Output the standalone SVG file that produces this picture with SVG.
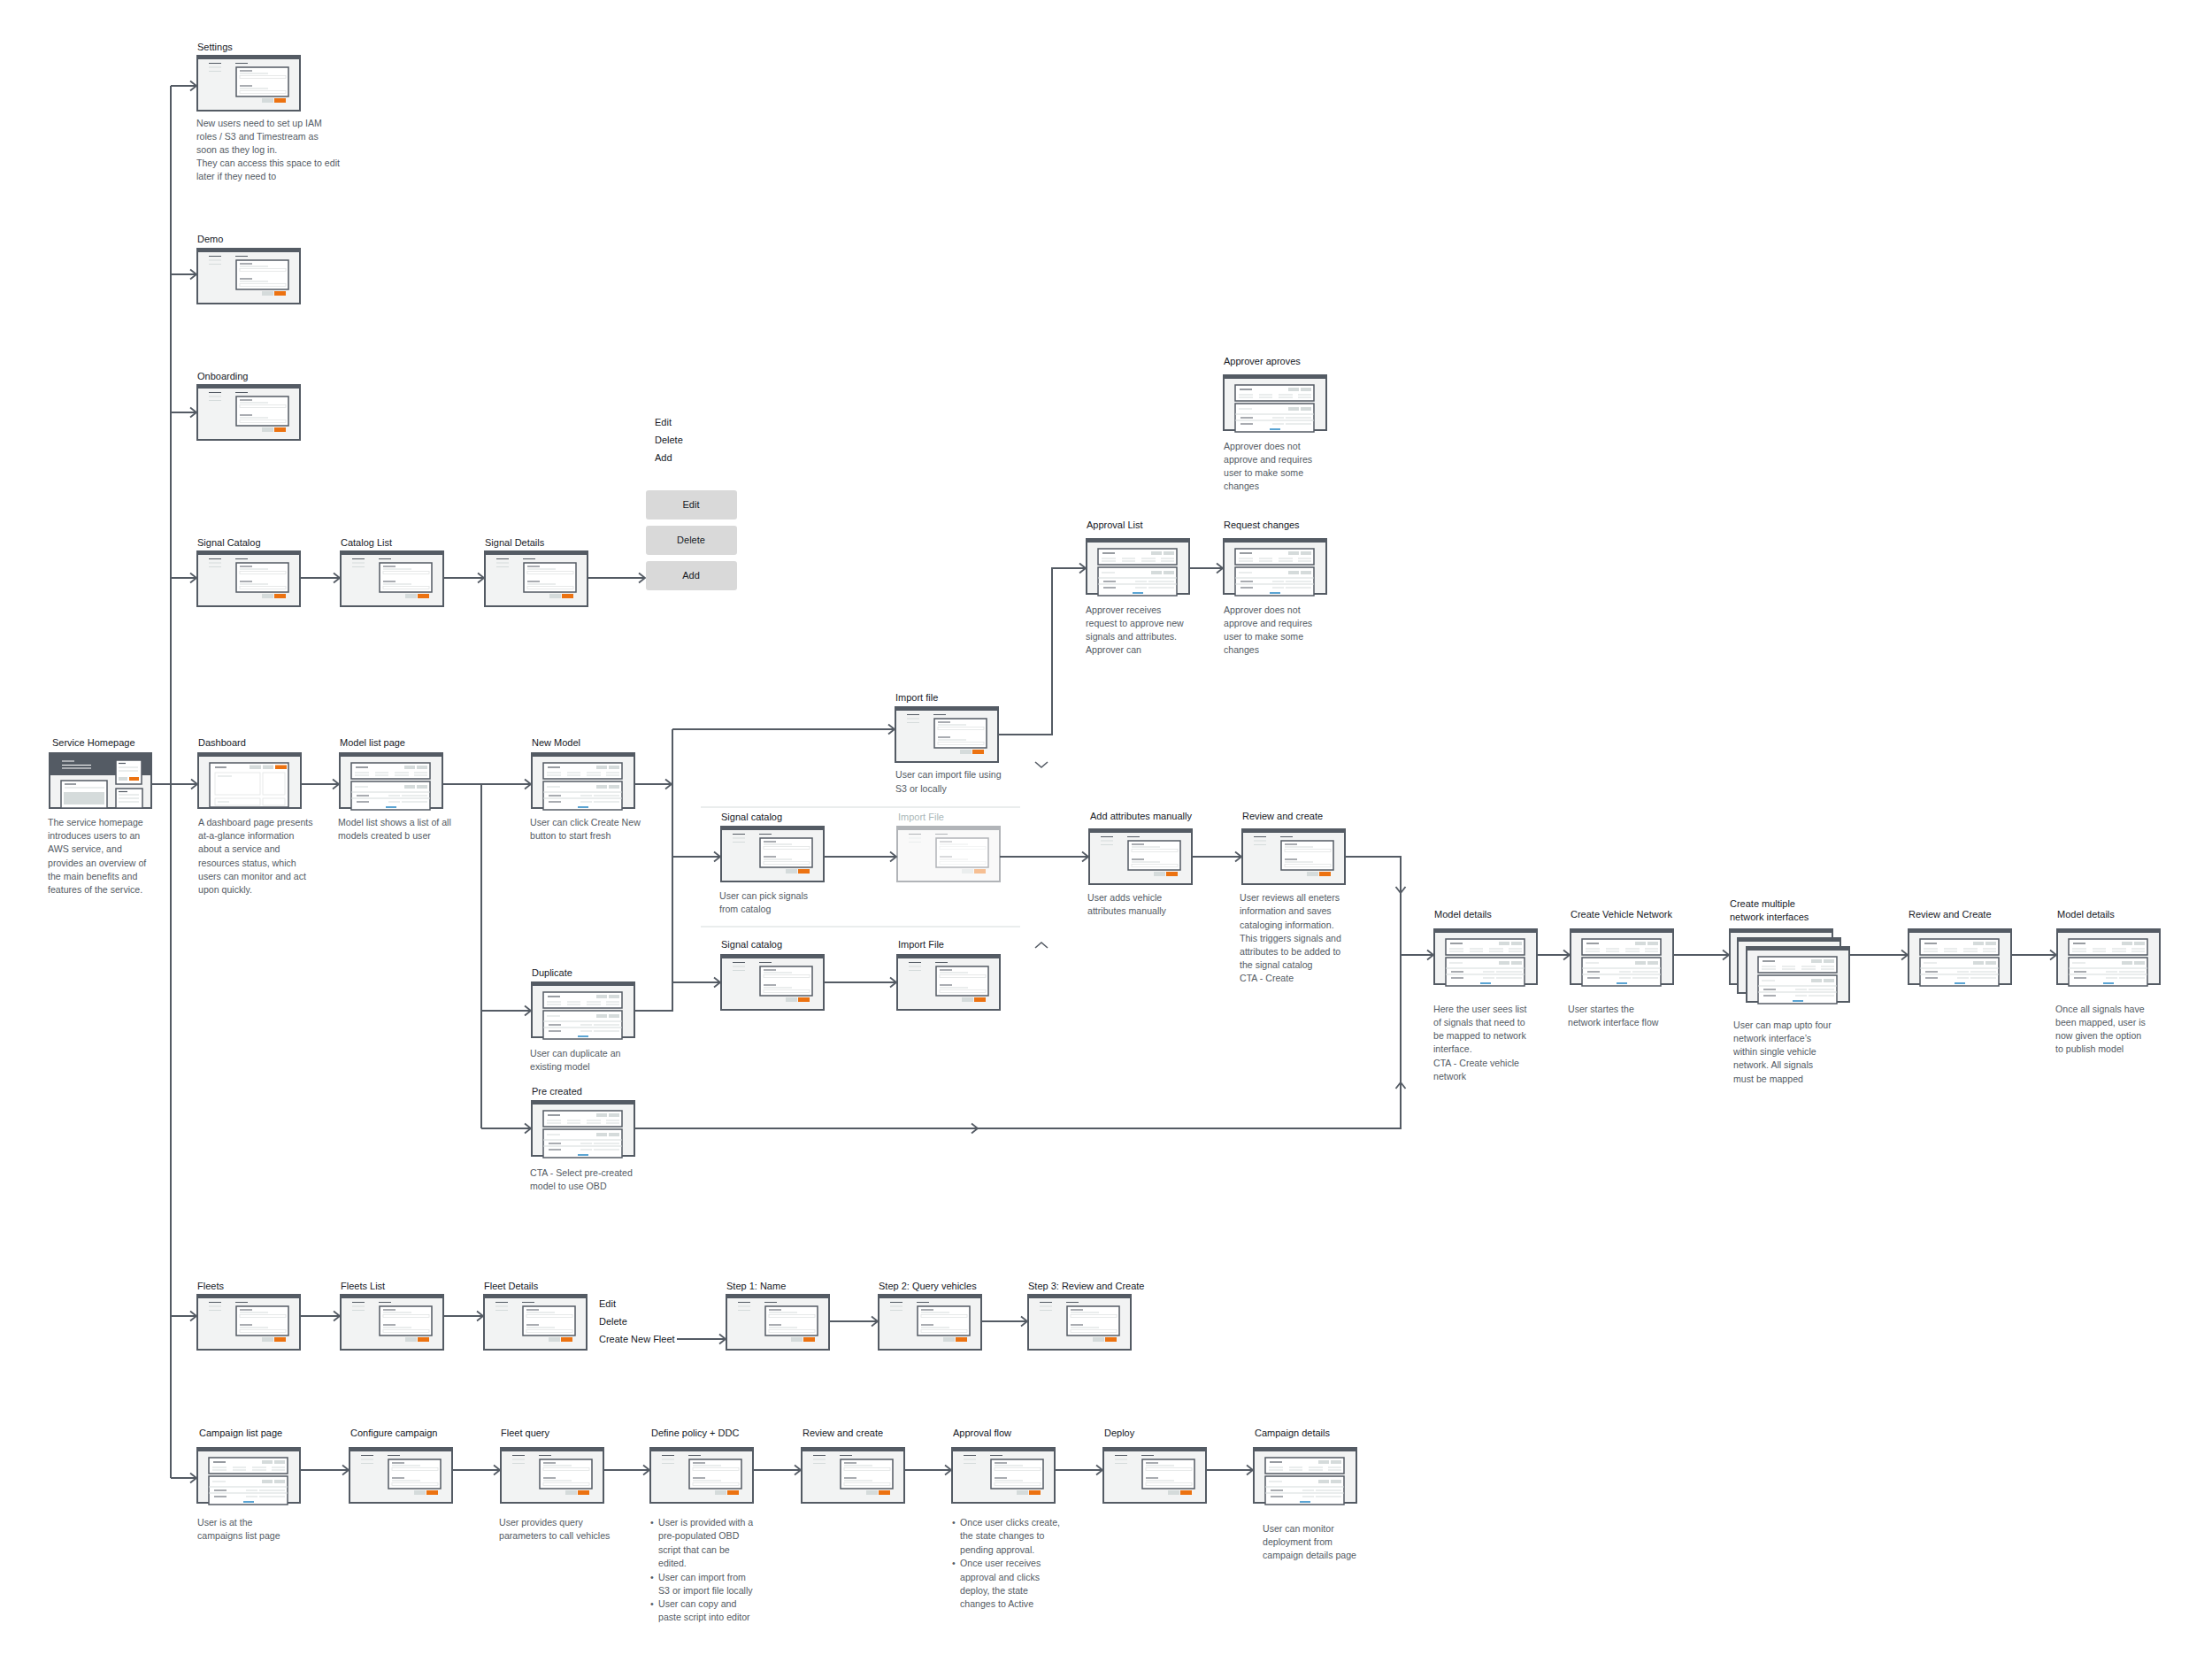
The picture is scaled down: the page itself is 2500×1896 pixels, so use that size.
<svg xmlns="http://www.w3.org/2000/svg" width="2500" height="1896" viewBox="0 0 2500 1896">
<style>
.lbl{font-family:"Liberation Sans",Arial,sans-serif;font-size:11px;fill:#16191f}
.lblf{font-family:"Liberation Sans",Arial,sans-serif;font-size:11px;fill:#aab7b8}
.desc{font-family:"Liberation Sans",Arial,sans-serif;font-size:10.6px;fill:#545b64}
.btnt{font-family:"Liberation Sans",Arial,sans-serif;font-size:11px;fill:#16191f;text-anchor:middle}
.conn path{fill:none;stroke:#545b64;stroke-width:2}
.fr{fill:#f2f3f3;stroke:#545b64;stroke-width:2}
.bar{fill:#545b64}
.pn{fill:#fff;stroke:#545b64;stroke-width:1.5}
.dk{fill:none;stroke:#545b64;stroke-width:1.2}
.lt{fill:none;stroke:#d5dbdb;stroke-width:1}
.fld{fill:none;stroke:#e1e4e4;stroke-width:0.8}
.gb{fill:#d5dbdb}
.ob{fill:#ec7211}
.bl{fill:none;stroke:#0073bb;stroke-width:1.3}
.btn{fill:#d9d9d9}
.sep{fill:none;stroke:#eaeded;stroke-width:2}
.chev{fill:none;stroke:#545b64;stroke-width:1.6}
</style>
<defs>
<marker id="arr" viewBox="0 0 10 14" markerWidth="10" markerHeight="14" refX="8.5" refY="7" orient="auto" markerUnits="userSpaceOnUse">
<path d="M1.5,1.5 L8.5,7 L1.5,12.5" fill="none" stroke="#545b64" stroke-width="1.8"/>
</marker>
<g id="tForm">
<rect class="fr" x="0" y="0" width="116" height="62"/>
<rect class="bar" x="0" y="0" width="116" height="4"/>
<path class="dk" d="M13,8.5h14M43,8.5h14"/>
<path class="lt" d="M13,13h14M13,17.5h14"/>
<rect class="pn" x="44" y="13" width="59" height="33"/>
<path class="dk" d="M48,17h14M48,34h14"/>
<path class="lt" d="M48,20h32M48,37h32"/>
<rect class="fld" x="48" y="22.5" width="52" height="3"/>
<rect class="fld" x="48" y="39.5" width="52" height="3"/>
<rect class="gb" x="73" y="48" width="13" height="5"/>
<rect class="ob" x="87" y="48" width="13" height="5"/>
</g>
<g id="tList">
<rect class="fr" x="0" y="0" width="116" height="62"/>
<rect class="bar" x="0" y="0" width="116" height="4"/>
<rect class="pn" x="13" y="11" width="89" height="18"/>
<path class="dk" d="M18,16h14"/>
<rect class="gb" x="73" y="14" width="12" height="4"/>
<rect class="gb" x="87" y="14" width="12" height="4"/>
<path class="lt" d="M17,22h16M40,22h15M62,22h16M84,22h15M17,25h16M40,25h15M62,25h16M84,25h15"/>
<rect class="pn" x="13" y="32" width="89" height="32"/>
<path class="lt" d="M17,38h15"/>
<rect class="gb" x="73" y="36" width="12" height="4"/>
<rect class="gb" x="87" y="36" width="12" height="4"/>
<path class="lt" d="M13,44h89M13,51h89"/>
<path class="dk" d="M19,48h14M19,55h14"/>
<path class="lt" d="M55,48h13M70,48h29M55,55h13M70,55h29"/>
<path class="bl" d="M52,61h12"/>
</g>
<g id="tFrame">
<rect class="fr" x="0" y="0" width="116" height="62"/>
<rect class="bar" x="0" y="0" width="116" height="4"/>
</g>
</defs>
<rect width="2500" height="1896" fill="#ffffff"/>

<g id="connectors" class="conn">
<path d="M193,97 V1670"/>
<path d="M193,97 H222" marker-end="url(#arr)"/>
<path d="M193,310 H222" marker-end="url(#arr)"/>
<path d="M193,466 H222" marker-end="url(#arr)"/>
<path d="M193,653 H222" marker-end="url(#arr)"/>
<path d="M171,886 H223" marker-end="url(#arr)"/>
<path d="M193,1487 H222" marker-end="url(#arr)"/>
<path d="M193,1670 H222" marker-end="url(#arr)"/>
<path d="M340,653 H384" marker-end="url(#arr)"/>
<path d="M501,653 H547" marker-end="url(#arr)"/>
<path d="M664,653 H729" marker-end="url(#arr)"/>
<path d="M340,886 H383" marker-end="url(#arr)"/>
<path d="M500,886 H544 V1275"/>
<path d="M544,886 H600" marker-end="url(#arr)"/>
<path d="M544,1142 H600" marker-end="url(#arr)"/>
<path d="M544,1275 H600" marker-end="url(#arr)"/>
<path d="M717,886 H759" marker-end="url(#arr)"/>
<path d="M760,824 V1142 H717"/>
<path d="M760,824 H1011" marker-end="url(#arr)"/>
<path d="M760,968 H814" marker-end="url(#arr)"/>
<path d="M760,1110 H814" marker-end="url(#arr)"/>
<path d="M931,968 H1013" marker-end="url(#arr)"/>
<path d="M1130,968 H1230" marker-end="url(#arr)"/>
<path d="M1347,968 H1403" marker-end="url(#arr)"/>
<path d="M1520,968 H1583 V1009" marker-end="url(#arr)"/>
<path d="M1583,1009 V1079 H1620" marker-end="url(#arr)"/>
<path d="M717,1275 H1105" marker-end="url(#arr)"/>
<path d="M1105,1275 H1583 V1223" marker-end="url(#arr)"/>
<path d="M1583,1223 V1079"/>
<path d="M931,1110 H1013" marker-end="url(#arr)"/>
<path d="M1128,830 H1189 V642 H1227" marker-end="url(#arr)"/>
<path d="M1344,642 H1382" marker-end="url(#arr)"/>
<path d="M1737,1079 H1774" marker-end="url(#arr)"/>
<path d="M1891,1079 H1954" marker-end="url(#arr)"/>
<path d="M2090,1079 H2156" marker-end="url(#arr)"/>
<path d="M2273,1079 H2324" marker-end="url(#arr)"/>
<path d="M339,1487 H384" marker-end="url(#arr)"/>
<path d="M501,1487 H546" marker-end="url(#arr)"/>
<path d="M765,1513 H820" marker-end="url(#arr)"/>
<path d="M937,1493 H992" marker-end="url(#arr)"/>
<path d="M1109,1493 H1161" marker-end="url(#arr)"/>
<path d="M339,1661 H394" marker-end="url(#arr)"/>
<path d="M511,1661 H565" marker-end="url(#arr)"/>
<path d="M682,1661 H734" marker-end="url(#arr)"/>
<path d="M851,1661 H905" marker-end="url(#arr)"/>
<path d="M1022,1661 H1075" marker-end="url(#arr)"/>
<path d="M1192,1661 H1246" marker-end="url(#arr)"/>
<path d="M1363,1661 H1416" marker-end="url(#arr)"/>
</g>

<g id="dividers">
<path class="sep" d="M792,912 H1153"/>
<path class="sep" d="M792,1047 H1153"/>
<polyline class="chev" points="1170,861 1177,867 1184,861"/>
<polyline class="chev" points="1170,1071 1177,1065 1184,1071"/>
</g>

<g id="settings">
<text class="lbl" x="223" y="57">Settings</text>
<use href="#tForm" x="223" y="63"/>
<text class="desc"><tspan x="222" y="143">New users need to set up IAM</tspan><tspan x="222" y="158">roles / S3 and Timestream as</tspan><tspan x="222" y="173">soon as they log in.</tspan><tspan x="222" y="188">They can access this space to edit</tspan><tspan x="222" y="203">later if they need to</tspan></text>
</g>
<g id="demo">
<text class="lbl" x="223" y="274">Demo</text>
<use href="#tForm" x="223" y="281"/>
</g>
<g id="onboarding">
<text class="lbl" x="223" y="429">Onboarding</text>
<use href="#tForm" x="223" y="435"/>
</g>
<g id="signal-catalog">
<text class="lbl" x="223" y="617">Signal Catalog</text>
<use href="#tForm" x="223" y="623"/>
</g>
<g id="catalog-list">
<text class="lbl" x="385" y="617">Catalog List</text>
<use href="#tForm" x="385" y="623"/>
</g>
<g id="signal-details">
<text class="lbl" x="548" y="617">Signal Details</text>
<use href="#tForm" x="548" y="623"/>
</g>
<g id="actions-list">
<text class="lbl"><tspan x="740" y="481">Edit</tspan><tspan x="740" y="501">Delete</tspan><tspan x="740" y="521">Add</tspan></text>
</g>
<g id="btn-edit">
<rect class="btn" x="730" y="554" width="103" height="33" rx="3"/>
<text class="btnt" x="781" y="574">Edit</text>
</g>
<g id="btn-delete">
<rect class="btn" x="730" y="594" width="103" height="33" rx="3"/>
<text class="btnt" x="781" y="614">Delete</text>
</g>
<g id="btn-add">
<rect class="btn" x="730" y="634" width="103" height="33" rx="3"/>
<text class="btnt" x="781" y="654">Add</text>
</g>

<g id="service-homepage">
<text class="lbl" x="59" y="843">Service Homepage</text>
<g transform="translate(56,851)">
<rect class="fr" x="0" y="0" width="115" height="62"/>
<rect class="bar" x="0" y="0" width="115" height="25"/>
<path fill="none" stroke="#ffffff" stroke-width="1.2" d="M14,9h14M14,13.5h33M14,17h33"/>
<rect class="pn" x="75" y="8" width="29" height="27" stroke-width="1.2"/>
<path class="dk" d="M78,11.5h8"/>
<path class="lt" d="M78,16h22M78,20h22"/>
<rect class="gb" x="78" y="27" width="10" height="4"/>
<rect class="ob" x="90" y="27" width="11" height="4"/>
<rect class="pn" x="13" y="31" width="52" height="31"/>
<path class="dk" d="M17,35h13"/>
<path class="lt" d="M17,39h45"/>
<rect class="gb" x="16" y="44" width="46" height="14"/>
<rect class="pn" x="75" y="40" width="30" height="22"/>
<path class="dk" d="M78,43.5h10"/>
<path class="lt" d="M78,47h23M78,51h23M78,55h23"/>
</g>
<text class="desc"><tspan x="54" y="933">The service homepage</tspan><tspan x="54" y="948">introduces users to an</tspan><tspan x="54" y="963">AWS service, and</tspan><tspan x="54" y="979">provides an overview of</tspan><tspan x="54" y="994">the main benefits and</tspan><tspan x="54" y="1009">features of the service.</tspan></text>
</g>

<g id="dashboard">
<text class="lbl" x="224" y="843">Dashboard</text>
<g transform="translate(224,851)">
<rect class="fr" x="0" y="0" width="116" height="62"/>
<rect class="bar" x="0" y="0" width="116" height="4"/>
<rect class="pn" x="13" y="11" width="89" height="50"/>
<path class="dk" d="M19,16h13"/>
<rect class="gb" x="58" y="13.5" width="13" height="4.5"/>
<rect class="gb" x="73" y="13.5" width="12" height="4.5"/>
<rect class="ob" x="87" y="13.5" width="13" height="4.5"/>
<rect class="fld" x="19" y="22" width="51" height="25" stroke="#d5dbdb" stroke-width="1"/>
<rect class="fld" x="73" y="22" width="25" height="25" stroke="#d5dbdb" stroke-width="1"/>
<rect class="fld" x="19" y="51" width="51" height="8" stroke="#d5dbdb" stroke-width="1"/>
<rect class="fld" x="73" y="51" width="25" height="8" stroke="#d5dbdb" stroke-width="1"/>
<path class="lt" d="M22,26h16M22,55h13"/>
</g>
<text class="desc"><tspan x="224" y="933">A dashboard page presents</tspan><tspan x="224" y="948">at-a-glance information</tspan><tspan x="224" y="963">about a service and</tspan><tspan x="224" y="979">resources status, which</tspan><tspan x="224" y="994">users can monitor and act</tspan><tspan x="224" y="1009">upon quickly.</tspan></text>
</g>

<g id="model-list-page">
<text class="lbl" x="384" y="843">Model list page</text>
<use href="#tList" x="384" y="851"/>
<text class="desc"><tspan x="382" y="933">Model list shows a list of all</tspan><tspan x="382" y="948">models created b user</tspan></text>
</g>
<g id="new-model">
<text class="lbl" x="601" y="843">New Model</text>
<use href="#tList" x="601" y="851"/>
<text class="desc"><tspan x="599" y="933">User can click Create New</tspan><tspan x="599" y="948">button to start fresh</tspan></text>
</g>
<g id="duplicate">
<text class="lbl" x="601" y="1103">Duplicate</text>
<use href="#tList" x="601" y="1110"/>
<text class="desc"><tspan x="599" y="1194">User can duplicate an</tspan><tspan x="599" y="1209">existing model</tspan></text>
</g>
<g id="pre-created">
<text class="lbl" x="601" y="1237">Pre created</text>
<use href="#tList" x="601" y="1244"/>
<text class="desc"><tspan x="599" y="1329">CTA - Select pre-created</tspan><tspan x="599" y="1344">model to use OBD</tspan></text>
</g>

<g id="import-file">
<text class="lbl" x="1012" y="792">Import file</text>
<use href="#tForm" x="1012" y="799"/>
<text class="desc"><tspan x="1012" y="879">User can import file using</tspan><tspan x="1012" y="895">S3 or locally</tspan></text>
</g>
<g id="signal-catalog-pick">
<text class="lbl" x="815" y="927">Signal catalog</text>
<use href="#tForm" x="815" y="934"/>
<text class="desc"><tspan x="813" y="1016">User can pick signals</tspan><tspan x="813" y="1031">from catalog</tspan></text>
</g>
<g id="import-file-faded">
<text class="lblf" x="1015" y="927">Import File</text>
<use href="#tForm" x="1014" y="934" opacity="0.45"/>
</g>
<g id="signal-catalog-dup">
<text class="lbl" x="815" y="1071">Signal catalog</text>
<use href="#tForm" x="815" y="1079"/>
</g>
<g id="import-file-dup">
<text class="lbl" x="1015" y="1071">Import File</text>
<use href="#tForm" x="1014" y="1079"/>
</g>
<g id="add-attributes">
<text class="lbl" x="1232" y="926">Add attributes manually</text>
<use href="#tForm" x="1231" y="937"/>
<text class="desc"><tspan x="1229" y="1018">User adds vehicle</tspan><tspan x="1229" y="1033">attributes manually</tspan></text>
</g>
<g id="review-and-create-model">
<text class="lbl" x="1404" y="926">Review and create</text>
<use href="#tForm" x="1404" y="937"/>
<text class="desc"><tspan x="1401" y="1018">User reviews all eneters</tspan><tspan x="1401" y="1033">information and saves</tspan><tspan x="1401" y="1049">cataloging information.</tspan><tspan x="1401" y="1064">This triggers signals and</tspan><tspan x="1401" y="1079">attributes to be added to</tspan><tspan x="1401" y="1094">the signal catalog</tspan><tspan x="1401" y="1109">CTA - Create</tspan></text>
</g>

<g id="approver-aproves">
<text class="lbl" x="1383" y="412">Approver aproves</text>
<use href="#tList" x="1383" y="424"/>
<text class="desc"><tspan x="1383" y="508">Approver does not</tspan><tspan x="1383" y="523">approve and requires</tspan><tspan x="1383" y="538">user to make some</tspan><tspan x="1383" y="553">changes</tspan></text>
</g>
<g id="approval-list">
<text class="lbl" x="1228" y="597">Approval List</text>
<use href="#tList" x="1228" y="609"/>
<text class="desc"><tspan x="1227" y="693">Approver receives</tspan><tspan x="1227" y="708">request to approve new</tspan><tspan x="1227" y="723">signals and attributes.</tspan><tspan x="1227" y="738">Approver can</tspan></text>
</g>
<g id="request-changes">
<text class="lbl" x="1383" y="597">Request changes</text>
<use href="#tList" x="1383" y="609"/>
<text class="desc"><tspan x="1383" y="693">Approver does not</tspan><tspan x="1383" y="708">approve and requires</tspan><tspan x="1383" y="723">user to make some</tspan><tspan x="1383" y="738">changes</tspan></text>
</g>

<g id="model-details">
<text class="lbl" x="1621" y="1037">Model details</text>
<use href="#tList" x="1621" y="1050"/>
<text class="desc"><tspan x="1620" y="1144">Here the user sees list</tspan><tspan x="1620" y="1159">of signals that need to</tspan><tspan x="1620" y="1174">be mapped to network</tspan><tspan x="1620" y="1189">interface.</tspan><tspan x="1620" y="1205">CTA - Create vehicle</tspan><tspan x="1620" y="1220">network</tspan></text>
</g>
<g id="create-vehicle-network">
<text class="lbl" x="1775" y="1037">Create Vehicle Network</text>
<use href="#tList" x="1775" y="1050"/>
<text class="desc"><tspan x="1772" y="1144">User startes the</tspan><tspan x="1772" y="1159">network interface flow</tspan></text>
</g>
<g id="create-multiple-interfaces">
<text class="lbl"><tspan x="1955" y="1025">Create multiple</tspan><tspan x="1955" y="1040">network interfaces</tspan></text>
<use href="#tFrame" x="1955" y="1050"/>
<use href="#tFrame" x="1964" y="1060"/>
<use href="#tList" x="1974" y="1070"/>
<text class="desc"><tspan x="1959" y="1162">User can map upto four</tspan><tspan x="1959" y="1177">network interface’s</tspan><tspan x="1959" y="1192">within single vehicle</tspan><tspan x="1959" y="1207">network. All signals</tspan><tspan x="1959" y="1223">must be mapped</tspan></text>
</g>
<g id="review-and-create-network">
<text class="lbl" x="2157" y="1037">Review and Create</text>
<use href="#tList" x="2157" y="1050"/>
</g>
<g id="model-details-publish">
<text class="lbl" x="2325" y="1037">Model details</text>
<use href="#tList" x="2325" y="1050"/>
<text class="desc"><tspan x="2323" y="1144">Once all signals have</tspan><tspan x="2323" y="1159">been mapped, user is</tspan><tspan x="2323" y="1174">now given the option</tspan><tspan x="2323" y="1189">to publish model</tspan></text>
</g>

<g id="fleets">
<text class="lbl" x="223" y="1457">Fleets</text>
<use href="#tForm" x="223" y="1463"/>
</g>
<g id="fleets-list">
<text class="lbl" x="385" y="1457">Fleets List</text>
<use href="#tForm" x="385" y="1463"/>
</g>
<g id="fleet-details">
<text class="lbl" x="547" y="1457">Fleet Details</text>
<use href="#tForm" x="547" y="1463"/>
</g>
<g id="fleet-actions">
<text class="lbl"><tspan x="677" y="1477">Edit</tspan><tspan x="677" y="1497">Delete</tspan><tspan x="677" y="1517">Create New Fleet</tspan></text>
</g>
<g id="step1">
<text class="lbl" x="821" y="1457">Step 1: Name</text>
<use href="#tForm" x="821" y="1463"/>
</g>
<g id="step2">
<text class="lbl" x="993" y="1457">Step 2: Query vehicles</text>
<use href="#tForm" x="993" y="1463"/>
</g>
<g id="step3">
<text class="lbl" x="1162" y="1457">Step 3: Review and Create</text>
<use href="#tForm" x="1162" y="1463"/>
</g>

<g id="campaign-list-page">
<text class="lbl" x="225" y="1623">Campaign list page</text>
<use href="#tList" x="223" y="1636"/>
<text class="desc"><tspan x="223" y="1724">User is at the</tspan><tspan x="223" y="1739">campaigns list page</tspan></text>
</g>
<g id="configure-campaign">
<text class="lbl" x="396" y="1623">Configure campaign</text>
<use href="#tForm" x="395" y="1636"/>
</g>
<g id="fleet-query">
<text class="lbl" x="566" y="1623">Fleet query</text>
<use href="#tForm" x="566" y="1636"/>
<text class="desc"><tspan x="564" y="1724">User provides query</tspan><tspan x="564" y="1739">parameters to call vehicles</tspan></text>
</g>
<g id="define-policy">
<text class="lbl" x="736" y="1623">Define policy + DDC</text>
<use href="#tForm" x="735" y="1636"/>
<text class="desc"><tspan x="735" y="1724">•</tspan><tspan x="744" y="1724">User is provided with a</tspan><tspan x="744" y="1739">pre-populated OBD</tspan><tspan x="744" y="1755">script that can be</tspan><tspan x="744" y="1770">edited.</tspan><tspan x="735" y="1786">•</tspan><tspan x="744" y="1786">User can import from</tspan><tspan x="744" y="1801">S3 or import file locally</tspan><tspan x="735" y="1816">•</tspan><tspan x="744" y="1816">User can copy and</tspan><tspan x="744" y="1831">paste script into editor</tspan></text>
</g>
<g id="review-and-create-campaign">
<text class="lbl" x="907" y="1623">Review and create</text>
<use href="#tForm" x="906" y="1636"/>
</g>
<g id="approval-flow">
<text class="lbl" x="1077" y="1623">Approval flow</text>
<use href="#tForm" x="1076" y="1636"/>
<text class="desc"><tspan x="1076" y="1724">•</tspan><tspan x="1085" y="1724">Once user clicks create,</tspan><tspan x="1085" y="1739">the state changes to</tspan><tspan x="1085" y="1755">pending approval.</tspan><tspan x="1076" y="1770">•</tspan><tspan x="1085" y="1770">Once user receives</tspan><tspan x="1085" y="1786">approval and clicks</tspan><tspan x="1085" y="1801">deploy, the state</tspan><tspan x="1085" y="1816">changes to Active</tspan></text>
</g>
<g id="deploy">
<text class="lbl" x="1248" y="1623">Deploy</text>
<use href="#tForm" x="1247" y="1636"/>
</g>
<g id="campaign-details">
<text class="lbl" x="1418" y="1623">Campaign details</text>
<use href="#tList" x="1417" y="1636"/>
<text class="desc"><tspan x="1427" y="1731">User can monitor</tspan><tspan x="1427" y="1746">deployment from</tspan><tspan x="1427" y="1761">campaign details page</tspan></text>
</g>
</svg>
